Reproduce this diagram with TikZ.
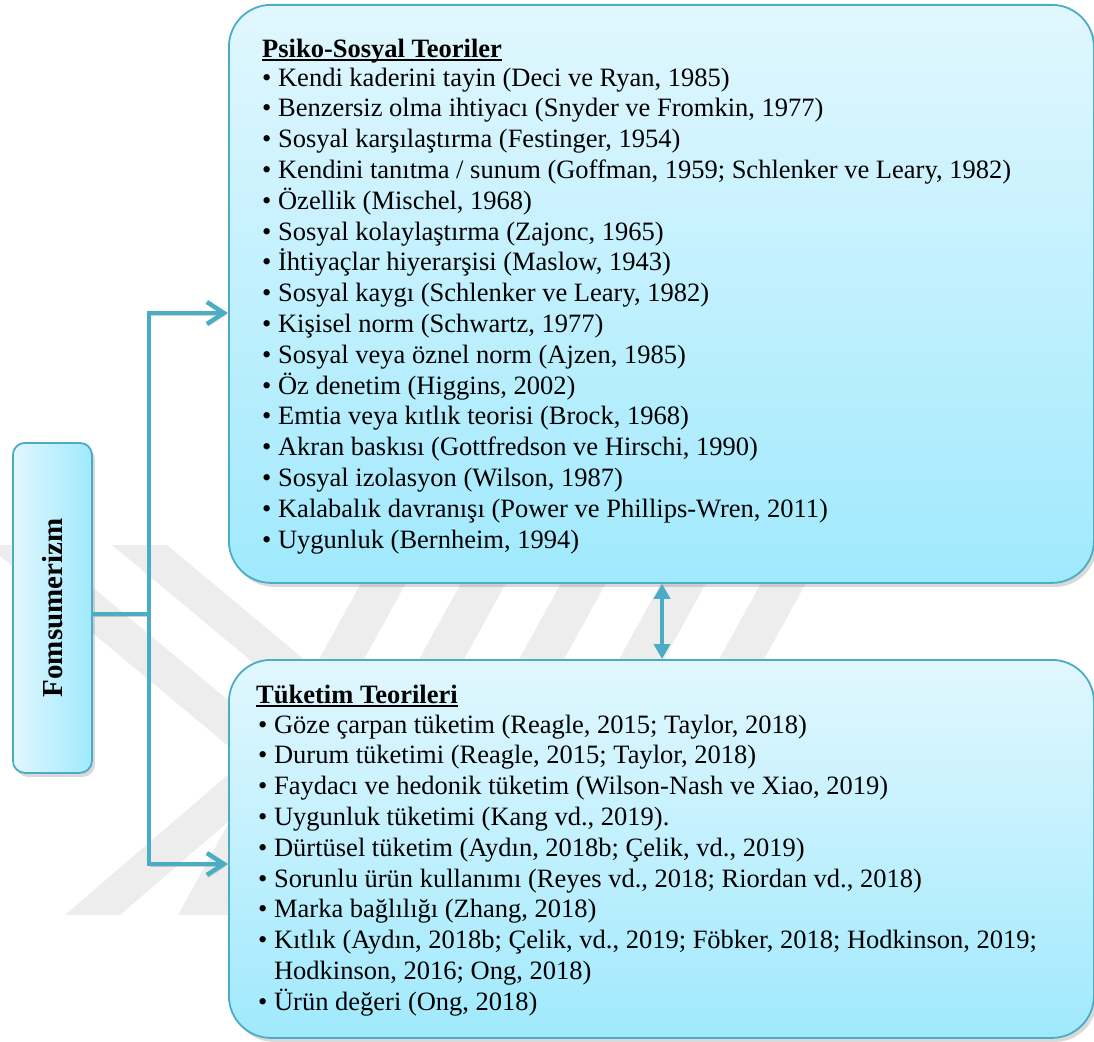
\documentclass[tikz,border=0pt]{standalone}
\usepackage{fontspec}
\setmainfont{Liberation Serif}
\usetikzlibrary{arrows.meta,shadows,calc}

\definecolor{edge}{RGB}{75,172,198}
\definecolor{fillhi}{RGB}{225,247,254}
\definecolor{filllo}{RGB}{160,233,253}
\definecolor{markgrey}{RGB}{237,237,237}

% bold heading with a rule that crosses the descenders
\newcommand\headline[1]{\setbox0=\hbox{#1}\rlap{\rule[-3.6pt]{\wd0}{1.9pt}}\box0}
\newcommand\itm{\textbullet\ }

\begin{document}
\begin{tikzpicture}[x=1pt,y=-1pt,
  panel/.style={draw=edge, line width=1.8pt, rounded corners=42pt,
    top color=fillhi, bottom color=filllo,
    drop shadow={shadow xshift=3pt, shadow yshift=-4pt, opacity=0.3},
    inner sep=0pt, anchor=north west},
  rootbox/.style={draw=edge, line width=1.8pt, rounded corners=12pt,
    left color=fillhi, right color=filllo,
    drop shadow={shadow xshift=3pt, shadow yshift=-4pt, opacity=0.3},
    inner sep=0pt, anchor=north west},
  head/.style={font=\fontsize{26.5}{31}\selectfont\bfseries, inner sep=0pt, anchor=base west},
  entry/.style={font=\fontsize{26.5}{31}\selectfont, inner sep=0pt, anchor=base west},
  conn/.style={draw=edge, line width=4.5pt,
    preaction={draw=black, opacity=0.18, transform canvas={shift={(1.5pt,-2.5pt)}}}},
  barb/.style={-{Straight Barb[length=17pt,width=22pt]}},
]
\useasboundingbox (0,0) rectangle (1094,1041);

% faint background chevrons
\fill[markgrey] (-13,545) -- (42,545) -- (300,760) -- (120,915) -- (65,915) -- (245,760) -- cycle;
\fill[markgrey] (112,545) -- (167,545) -- (425,760) -- (245,915) -- (190,915) -- (370,760) -- cycle;
\foreach \s in {340,440,540,640,740}
  \fill[markgrey] ({\s-162},915) -- ({\s-117},915) -- ({\s+45+42},545) -- ({\s+42},545) -- cycle;

% boxes
\node[rootbox, minimum width=79pt, minimum height=330pt] (L) at (12,442) {};
\node[panel, minimum width=865pt, minimum height=578pt] (T) at (228,4) {};
\node[panel, minimum width=865pt, minimum height=378pt] (B) at (228,659) {};

\node[font=\fontsize{29}{34}\selectfont\bfseries, rotate=90, inner sep=0pt] (Ltxt) at (L.center) {Fomsumerizm};

% connectors
\coordinate (jt) at (149,313);
\coordinate (jm) at (149,614);
\coordinate (jb) at (149,864);
\coordinate (dx) at (662,0);
\draw[conn] (L.east |- jm) -- (jm);
\draw[conn, {Straight Barb[length=17pt,width=22pt]}-{Straight Barb[length=17pt,width=22pt]}, line join=miter]
  (T.west |- jt) -- (jt) -- (jb) -- (B.west |- jb);
\draw[draw=edge, line width=4pt, {Triangle[length=15pt,width=16pt]}-{Triangle[length=15pt,width=16pt]}]
  (T.south -| dx) -- (B.north -| dx);

% upper panel text
\node[head] (Thead) at (262,57) {\headline{Psiko-Sosyal Teoriler}};
\foreach \txt [count=\i from 0] in {
  {Kendi kaderini tayin (Deci ve Ryan, 1985)},
  {Benzersiz olma ihtiyacı (Snyder ve Fromkin, 1977)},
  {Sosyal karşılaştırma (Festinger, 1954)},
  {Kendini tanıtma / sunum (Goffman, 1959; Schlenker ve Leary, 1982)},
  {Özellik (Mischel, 1968)},
  {Sosyal kolaylaştırma (Zajonc, 1965)},
  {İhtiyaçlar hiyerarşisi (Maslow, 1943)},
  {Sosyal kaygı (Schlenker ve Leary, 1982)},
  {Kişisel norm (Schwartz, 1977)},
  {Sosyal veya öznel norm (Ajzen, 1985)},
  {Öz denetim (Higgins, 2002)},
  {Emtia veya kıtlık teorisi (Brock, 1968)},
  {Akran baskısı (Gottfredson ve Hirschi, 1990)},
  {Sosyal izolasyon (Wilson, 1987)},
  {Kalabalık davranışı (Power ve Phillips-Wren, 2011)},
  {Uygunluk (Bernheim, 1994)}}
  \node[entry] (Tl\i) at (262,{86+30.8*\i}) {\itm\txt};

% lower panel text
\node[head] (Bhead) at (256,703) {\headline{Tüketim Teorileri}};
\foreach \txt [count=\i from 0] in {
  {\itm Göze çarpan tüketim (Reagle, 2015; Taylor, 2018)},
  {\itm Durum tüketimi (Reagle, 2015; Taylor, 2018)},
  {\itm Faydacı ve hedonik tüketim (Wilson-Nash ve Xiao, 2019)},
  {\itm Uygunluk tüketimi (Kang vd., 2019).},
  {\itm Dürtüsel tüketim (Aydın, 2018b; Çelik, vd., 2019)},
  {\itm Sorunlu ürün kullanımı (Reyes vd., 2018; Riordan vd., 2018)},
  {\itm Marka bağlılığı (Zhang, 2018)},
  {\itm Kıtlık (Aydın, 2018b; Çelik, vd., 2019; Föbker, 2018; Hodkinson, 2019;},
  {\phantom{\itm}Hodkinson, 2016; Ong, 2018)},
  {\itm Ürün değeri (Ong, 2018)}}
  \node[entry] (Bl\i) at (258,{733+30.8*\i}) {\txt};
\end{tikzpicture}
\end{document}
